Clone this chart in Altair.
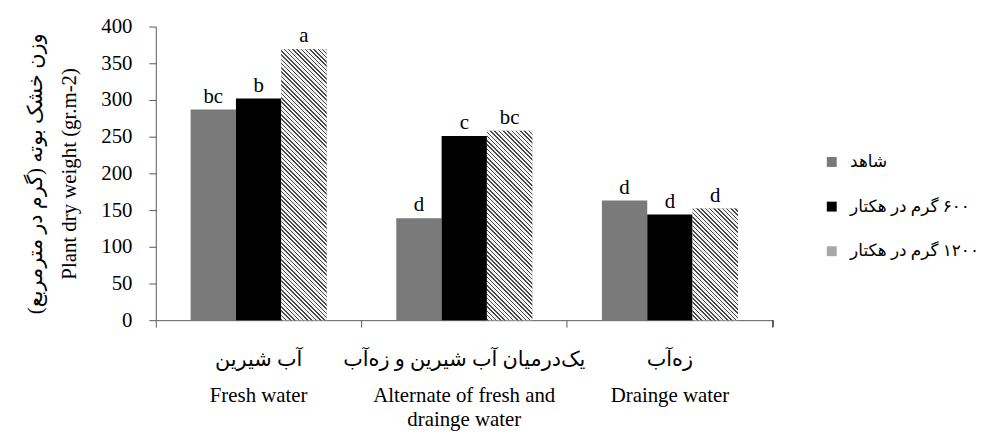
import altair as alt
import pandas as pd

RLM = "\u200f"
BLANK = "\u200b"
FONT = "Liberation Serif, DejaVu Sans"

# categories (x)
cat_keys = ["Fresh water", "Alternate of fresh and drainge water", "Drainge water"]
cat_fa = ["آب شیرین", "یک‌درمیان آب شیرین و زه‌آب", "زه‌آب"]
cat_en_lines = [["Fresh water"], ["Alternate of fresh and", "drainge water"], ["Drainge water"]]

# series
treatments = [RLM + "شاهد", RLM + "۶۰۰ گرم در هکتار", RLM + "۱۲۰۰ گرم در هکتار"]
colors = ["#7a7a7a", "#000000", "#a8a8a8"]
control_vals = [287, 139, 163]
g600_vals = [302, 251, 144]
g1200_vals = [369, 258, 152]
control_letters = ["bc", "d", "d"]
g600_letters = ["b", "c", "d"]
g1200_letters = ["a", "bc", "d"]

y_ticks = [0, 50, 100, 150, 200, 250, 300, 350, 400]
y_title = [RLM + "وزن خشک بوته (گرم در مترمربع)" + RLM, "Plant dry weight (gr.m-2)"]

# layout
PLOT_W, PLOT_H = 622, 296
Y_MAX = 400
OFFSET_PAD = 0.768

rows = []
for t, vals, lets in [(treatments[0], control_vals, control_letters),
                      (treatments[1], g600_vals, g600_letters),
                      (treatments[2], g1200_vals, g1200_letters)]:
    for c, v, l in zip(cat_keys, vals, lets):
        rows.append({"cat": c, "trt": t, "val": v, "letter": l})
df = pd.DataFrame(rows)

# diagonal hatch fill for the 1200 series (striped linear gradient per bar)
HATCH_DARK, HATCH_LIGHT, HATCH_PERIOD, HATCH_DUTY = "#4a4a4a", "#f4f4f4", 4.3, 0.36
BAR_W = PLOT_W / len(cat_keys) / (len(treatments) + 2 * OFFSET_PAD)


def hatch_gradient(val):
    w = BAR_W
    h = val * PLOT_H / Y_MAX
    k = (w + h) / (w * w + h * h)
    n = (w + h) / HATCH_PERIOD
    stops = []
    i = 0
    while i < n:
        a = i / n
        b = min((i + HATCH_DUTY) / n, 1.0)
        c = min((i + 1) / n, 1.0)
        stops += [{"offset": a, "color": HATCH_DARK}, {"offset": b, "color": HATCH_DARK},
                  {"offset": b, "color": HATCH_LIGHT}, {"offset": c, "color": HATCH_LIGHT}]
        i += 1
    return {"gradient": "linear", "x1": 0, "y1": 1, "x2": k * w, "y2": 1 - k * h, "stops": stops}


hatch_rows = [{"cat": c, "trt": treatments[2], "val": v, "grad": hatch_gradient(v)}
              for c, v in zip(cat_keys, g1200_vals)]

# label expression: Persian line, then English lines
def js_str(s):
    return "'" + s.replace("'", "\\'") + "'"

expr = "''"
for k, fa, en in reversed(list(zip(cat_keys, cat_fa, cat_en_lines))):
    lines = [fa, BLANK, BLANK]
    for i, e in enumerate(en):
        if i > 0:
            lines.append(BLANK)
        lines.append(e)
    arr = "[" + ",".join(js_str(x) for x in lines) + "]"
    expr = f"datum.value == {js_str(k)} ? {arr} : ({expr})"

x_enc = alt.X(
    "cat:N",
    sort=cat_keys,
    scale=alt.Scale(domain=cat_keys, paddingInner=0, paddingOuter=0),
    axis=alt.Axis(
        title=None, labelAngle=0, bandPosition=0, tickSize=7, labelPadding=22,
        labelExpr=expr, labelLineHeight=12, labelFontSize=21, labelFont=FONT,
        labelColor="#000000", domainColor="#595959", tickColor="#595959",
        labelBaseline="top", labelAlign="center", labelBound=False, labelOverlap=False,
        labelFlush=False, labelLimit=500,
    ),
)
xoff_enc = alt.XOffset("trt:N", sort=treatments,
                       scale=alt.Scale(domain=treatments, paddingInner=0, paddingOuter=OFFSET_PAD))
y_enc = alt.Y(
    "val:Q",
    scale=alt.Scale(domain=[0, Y_MAX], nice=False),
    axis=alt.Axis(
        title=y_title, values=y_ticks, tickCount=len(y_ticks), grid=False,
        labelOverlap=False, labelBound=False, labelFlush=False,
        tickSize=7, labelPadding=17, labelFontSize=21, labelFont=FONT, labelColor="#000000",
        domainColor="#595959", tickColor="#595959", titleFont=FONT, titleFontSize=21,
        titleFontWeight="normal", titleColor="#000000", titleLineHeight=35, titlePadding=21,
    ),
)

bars = alt.Chart(df).mark_bar(strokeWidth=0).encode(
    x=x_enc,
    xOffset=xoff_enc,
    y=y_enc,
    color=alt.Color(
        "trt:N",
        sort=treatments,
        scale=alt.Scale(domain=treatments, range=colors),
        legend=alt.Legend(
            title=None, orient="none", legendX=673, legendY=128, padding=0,
            symbolType="square", symbolSize=100, symbolStrokeWidth=0,
            labelFont=FONT, labelFontSize=17, labelColor="#000000",
            rowPadding=27, labelOffset=10, labelLimit=300,
        ),
    ),
)

hatch = alt.Chart(alt.Data(values=hatch_rows)).mark_bar(strokeWidth=0).encode(
    x=x_enc,
    xOffset=xoff_enc,
    y=y_enc,
    fill=alt.Fill("grad:N", scale=None, legend=None),
)

letters = alt.Chart(df).mark_text(
    font=FONT, fontSize=21, baseline="alphabetic", dy=-7, color="#000000"
).encode(
    x=x_enc,
    xOffset=xoff_enc,
    y=y_enc,
    text="letter:N",
)

end_tick = alt.Chart(df).mark_rule(color="#595959", strokeWidth=1).encode(
    x=alt.X(datum=cat_keys[-1], type="nominal", bandPosition=1),
    y=alt.Y(datum=0, type="quantitative"),
    y2=alt.value(PLOT_H + 7),
)

chart = alt.layer(bars, hatch, letters, end_tick).properties(
    width=PLOT_W, height=PLOT_H,
    autosize=alt.AutoSizeParams(type="none"),
    padding={"left": 149, "top": 17, "right": 214, "bottom": 110},
    background="white",
).configure_view(stroke=None)

chart.save("out.html", embed_options={"renderer": "svg", "actions": False})
